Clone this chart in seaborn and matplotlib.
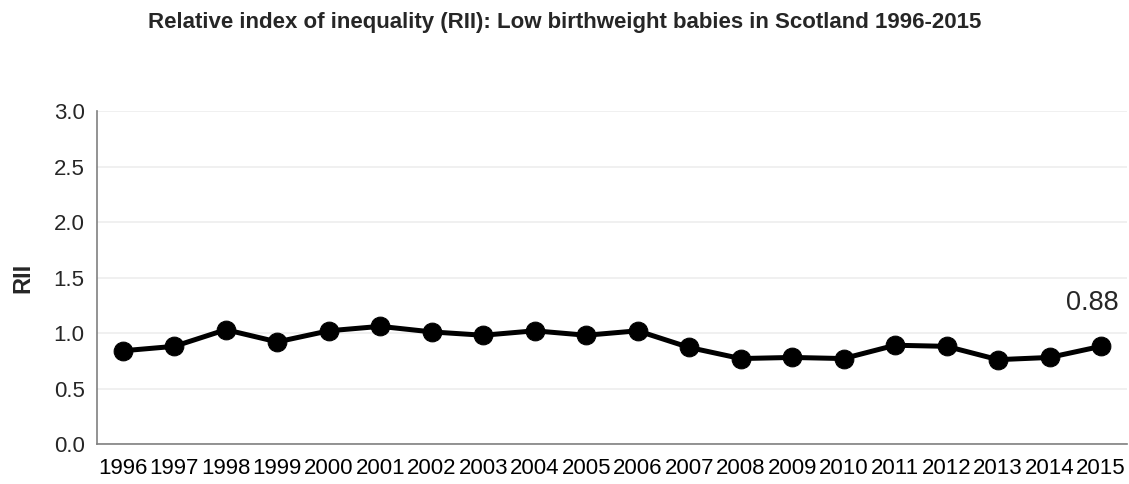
import numpy as np
import pandas as pd
import matplotlib
matplotlib.use("Agg")
import matplotlib.pyplot as plt
import seaborn as sns

# Data
years = [str(y) for y in range(1996, 2016)]
rii = [0.84, 0.88, 1.03, 0.92, 1.02, 1.06, 1.01, 0.98, 1.02, 0.98,
       1.02, 0.87, 0.77, 0.78, 0.77, 0.89, 0.88, 0.76, 0.78, 0.88]
last_label = "0.88"

sns.set_style("white")
plt.rcParams['font.family'] = ['Liberation Sans', 'DejaVu Sans']

df = pd.DataFrame({'pos': np.arange(len(years)), 'RII': rii})

fig = plt.figure(figsize=(11.29, 4.84), dpi=100)
ax = fig.add_axes([0.086, 0.0826, 0.912, 0.688])

sns.lineplot(data=df, x='pos', y='RII', ax=ax, color='black', linewidth=3.6,
             marker='o', markersize=13.5, markeredgecolor='black', zorder=3)

ax.set_xlim(-0.5, len(years) - 0.5)
ax.set_ylim(0, 3.0)
ax.set_yticks(np.arange(0, 3.01, 0.5))
ax.set_yticklabels([f"{v:.1f}" for v in np.arange(0, 3.01, 0.5)])

# major ticks at category boundaries, labels on minor ticks at centres
ax.set_xticks(np.arange(-0.5, len(years), 1.0))
ax.set_xticklabels([])
ax.set_xticks(np.arange(len(years)), minor=True)
ax.set_xticklabels(years, minor=True)
ax.tick_params(axis='x', which='minor', length=0, labelsize=16, pad=10, colors='black')
ax.tick_params(axis='x', which='major', length=6, width=1.2, color='#808080', direction='out')
ax.tick_params(axis='y', length=5, width=1.2, color='#808080', direction='out', labelsize=16, pad=4)

ax.grid(axis='y', color='#eeeeee', linewidth=1.2)
ax.set_axisbelow(True)
for s in ['top', 'right']:
    ax.spines[s].set_visible(False)
for s in ['left', 'bottom']:
    ax.spines[s].set_color('#808080')
    ax.spines[s].set_linewidth(1.2)

ax.set_xlabel('')
ax.set_ylabel('RII', fontsize=17, fontweight='bold')
ax.yaxis.set_label_coords(-0.061, 0.5)

ax.annotate(last_label, xy=(len(years) - 1, rii[-1]), xytext=(-6, 31),
            textcoords='offset points', ha='center', va='center', fontsize=19.5)

fig.suptitle('Relative index of inequality (RII): Low birthweight babies in Scotland 1996-2015',
             fontsize=16, fontweight='bold', y=0.975)

fig.savefig('out.png', dpi=100)
